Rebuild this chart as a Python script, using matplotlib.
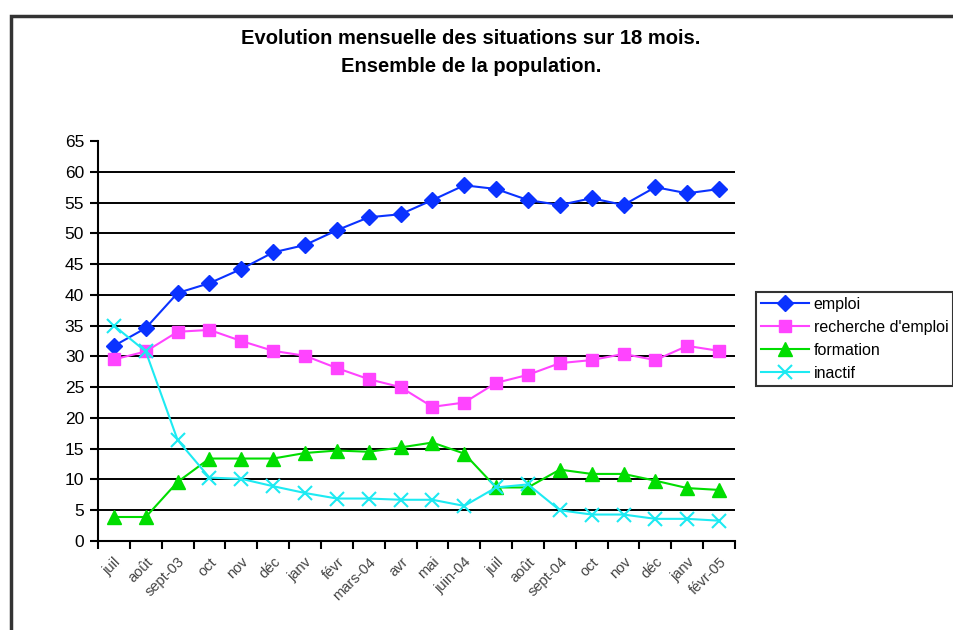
import numpy as np
import matplotlib.pyplot as plt
from matplotlib.patches import Rectangle

months = ['juil', 'août', 'sept-03', 'oct', 'nov', 'déc', 'janv', 'févr', 'mars-04', 'avr',
          'mai', 'juin-04', 'juil', 'août', 'sept-04', 'oct', 'nov', 'déc', 'janv', 'févr-05']

emploi = [31.7, 34.6, 40.3, 41.9, 44.2, 46.9, 48.1, 50.5, 52.6, 53.1,
          55.4, 57.8, 57.2, 55.4, 54.6, 55.7, 54.6, 57.5, 56.5, 57.2]
recherche = [29.5, 30.8, 34.0, 34.3, 32.5, 30.9, 30.1, 28.1, 26.3, 25.0,
             21.8, 22.5, 25.7, 27.0, 28.9, 29.4, 30.4, 29.4, 31.7, 30.9]
formation = [3.9, 3.9, 9.6, 13.4, 13.4, 13.4, 14.3, 14.7, 14.5, 15.2,
             16.0, 14.2, 8.7, 8.7, 11.6, 10.9, 10.9, 9.8, 8.6, 8.3]
inactif = [35.0, 30.8, 16.4, 10.3, 10.1, 8.9, 7.8, 6.9, 6.9, 6.7,
           6.7, 5.7, 8.7, 9.2, 5.0, 4.3, 4.3, 3.6, 3.6, 3.3]

plt.rcParams['font.family'] = ['Liberation Sans', 'DejaVu Sans']

W, H = 954, 630
fig = plt.figure(figsize=(W / 100, H / 100), dpi=100)
ax = fig.add_axes([98 / W, 1 - 541 / H, (735 - 98) / W, (541 - 141) / H])

x = np.arange(len(months))
l1, = ax.plot(x, emploi, color='#0A32FF', lw=1.5, marker='D', ms=8, label='emploi')
l2, = ax.plot(x, recherche, color='#FF44FF', lw=1.5, marker='s', ms=8, label="recherche d'emploi")
l3, = ax.plot(x, formation, color='#00DD00', lw=1.5, marker='^', ms=10, label='formation')
l4, = ax.plot(x, inactif, color='#1DEAF2', lw=1.5, marker='x', ms=10, mew=1.5, label='inactif')

ax.set_ylim(0, 65)
ax.set_yticks(np.arange(0, 66, 5))
ax.set_xlim(-0.5, len(months) - 0.5)
ax.set_xticks(np.arange(-0.5, len(months), 1))
ax.set_xticklabels([])
ax.set_xticks(x, minor=True)
ax.set_xticklabels(months, minor=True, rotation=45, ha='right', rotation_mode='anchor',
                   fontsize=10.5, color='#444444')
ax.tick_params(axis='x', which='minor', length=0, pad=10)
ax.tick_params(axis='x', which='major', length=6, width=1.5, direction='out')
ax.tick_params(axis='y', length=6, width=1.5, labelsize=12.5, pad=4)

for v in range(5, 65, 5):
    ax.axhline(v, color='black', lw=1.4, zorder=0)

for s in ['top', 'right']:
    ax.spines[s].set_visible(False)
for s in ['left', 'bottom']:
    ax.spines[s].set_linewidth(1.5)

fig.text(471 / W, 1 - 38 / H, 'Evolution mensuelle des situations sur 18 mois.',
         ha='center', va='center', fontsize=14.5, fontweight='bold')
fig.text(471 / W, 1 - 66 / H, 'Ensemble de la population.',
         ha='center', va='center', fontsize=14.5, fontweight='bold')

# chart frame
fig.patches.append(Rectangle((11 / W, -0.1), 1.2, 1 - 16 / H + 0.1, transform=fig.transFigure,
                             fill=False, edgecolor='#333333', lw=2.5))

leg = fig.legend(handles=[l1, l2, l3, l4], loc='upper left',
                 bbox_to_anchor=(756 / W, 1 - 292 / H), fontsize=11.5,
                 frameon=True, fancybox=False, edgecolor='black',
                 borderpad=0.3, labelspacing=0.5, handlelength=3.0, handletextpad=0.3,
                 borderaxespad=0)
leg.get_frame().set_linewidth(1.5)

fig.savefig('out.png', dpi=100)
